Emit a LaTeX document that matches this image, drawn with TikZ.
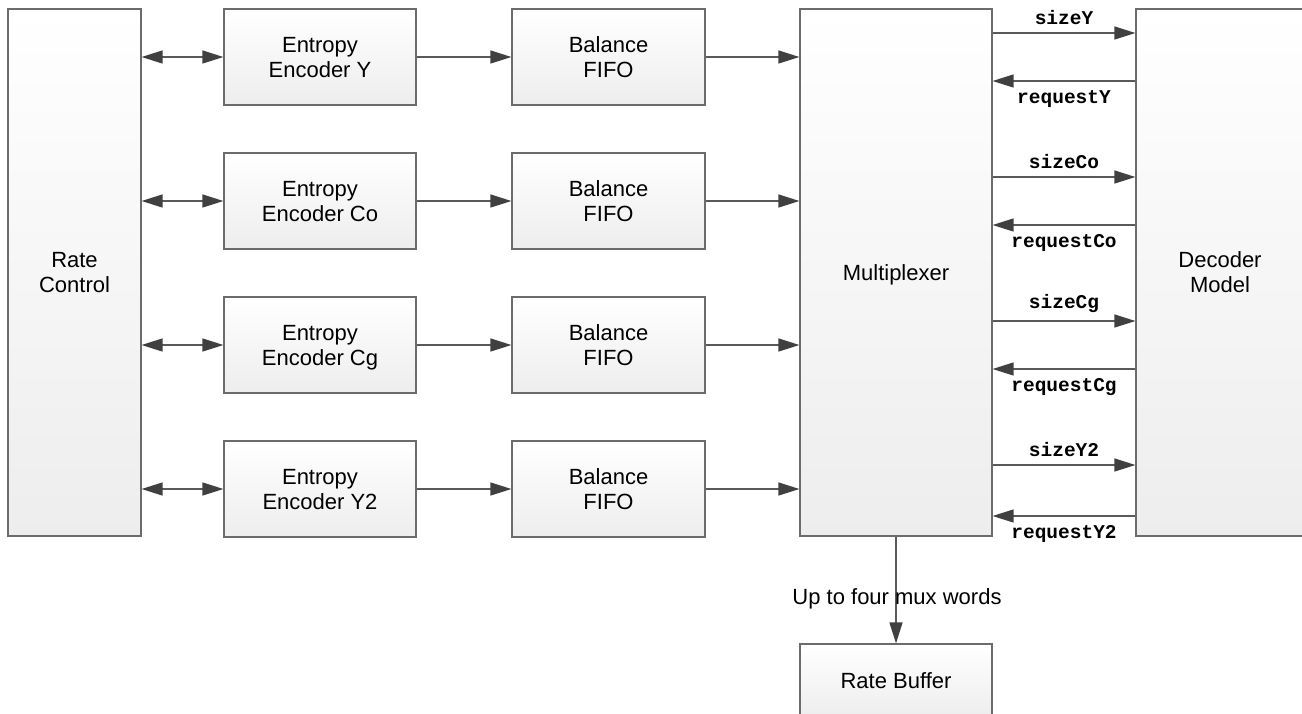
\documentclass[tikz,border=0pt]{standalone}
\usepackage{fontspec}
\setmainfont{Liberation Sans}
\setmonofont{Liberation Mono}
\usetikzlibrary{arrows.meta}
\definecolor{boxline}{HTML}{6B6B6B}
\definecolor{wirecol}{HTML}{5A5A5A}
\definecolor{tipcol}{HTML}{404040}

\tikzset{
  block/.style={draw=boxline, line width=1.2pt, top color=white, bottom color=black!7,
    align=center, inner sep=0pt, text depth=0pt, font=\fontsize{22}{25}\selectfont},
  wire/.style={draw=wirecol, line width=1.3pt},
  sig/.style={font=\fontsize{19.5}{22}\selectfont\ttfamily\bfseries, inner sep=3pt},
}

\begin{document}
\begin{tikzpicture}[x=1pt, y=-1pt, >={Triangle[length=21pt,width=13pt,color=tipcol]}]
\useasboundingbox (0,0) rectangle (1302,714);
\clip (0,0) rectangle (1302,714);
% big blocks
\node[block, minimum width=133pt, minimum height=527pt] (rc) at (74.5,272.5) {Rate\\Control};
\node[block, minimum width=192pt, minimum height=527pt] (mux) at (896,272.5) {Multiplexer};
\node[block, minimum width=168pt, minimum height=527pt] (dec) at (1220,272.5) {Decoder\\Model};
\node[block, minimum width=192pt, minimum height=74pt] (buf) at (896,681) {Rate Buffer};
% one row per component
\foreach \y/\c [count=\i] in {57/Y,201/Co,345/Cg,489/Y2} {
  \node[block, minimum width=192pt, minimum height=96pt] (enc\i) at (320,\y) {Entropy\\Encoder \c};
  \node[block, minimum width=193pt, minimum height=96pt] (fifo\i) at (608.5,\y) {Balance\\FIFO};
  \draw[wire, <->] (rc.east |- enc\i.west) -- (enc\i.west);
  \draw[wire, ->] (enc\i.east) -- (fifo\i.west);
  \draw[wire, ->] (fifo\i.east) -- (mux.west |- fifo\i.east);
}
% handshake with the decoder model
\foreach \ys/\yr/\c in {33/81/Y,177/225/Co,321/369/Cg,465/516/Y2} {
  \draw[wire, ->] (mux.east |- 0,\ys) -- node[sig, above, yshift=5pt] {size\c} (dec.west |- 0,\ys);
  \draw[wire, ->] (dec.west |- 0,\yr) -- node[sig, below, yshift=-6pt] {request\c} (mux.east |- 0,\yr);
}
\draw[wire, ->] (mux.south) -- node[pos=0.58, xshift=1pt, font=\fontsize{22}{25}\selectfont] {Up to four mux words} (buf.north);
\end{tikzpicture}
\end{document}
